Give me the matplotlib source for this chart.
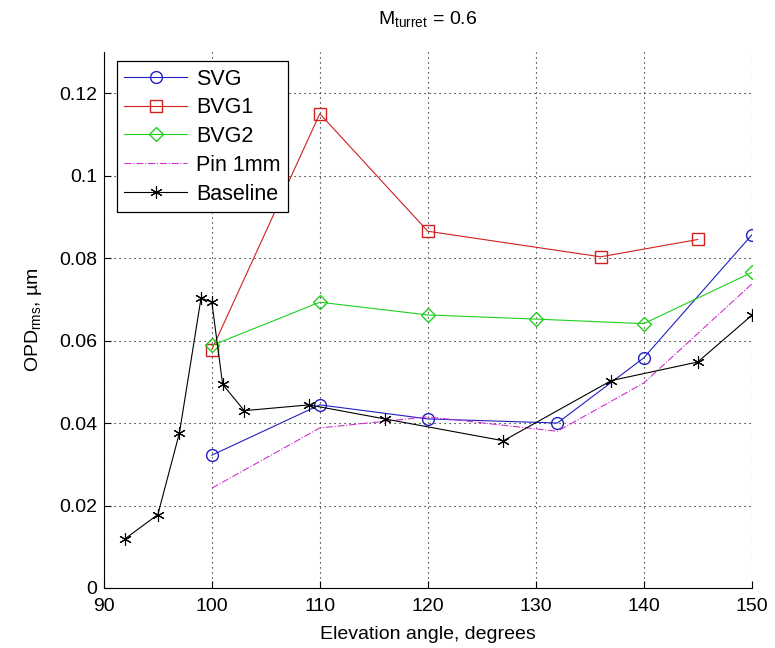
import matplotlib.pyplot as plt

plt.rcParams['font.family'] = ['Liberation Sans', 'DejaVu Sans']
plt.rcParams['mathtext.fontset'] = 'custom'
plt.rcParams['mathtext.rm'] = 'Liberation Sans'
plt.rcParams['mathtext.it'] = 'Liberation Sans'

# elevation angle [deg] vs OPD_rms [um]
svg_x = [100, 110, 120, 132, 140, 150]
svg_y = [0.0322, 0.0444, 0.0410, 0.0400, 0.0558, 0.0856]

bvg1_x = [100, 110, 120, 136, 145]
bvg1_y = [0.0578, 0.1150, 0.0865, 0.0803, 0.0845]

bvg2_x = [100, 110, 120, 130, 140, 150]
bvg2_y = [0.0588, 0.0693, 0.0662, 0.0652, 0.0641, 0.0765]

pin_x = [100, 110, 120, 132, 140, 150]
pin_y = [0.0242, 0.0388, 0.0415, 0.0380, 0.0497, 0.0737]

base_x = [92, 95, 97, 99, 100, 101, 103, 109, 116, 127, 137, 145, 150]
base_y = [0.0120, 0.0178, 0.0376, 0.0703, 0.0693, 0.0494, 0.0430,
          0.0444, 0.0410, 0.0357, 0.0503, 0.0548, 0.0661]

fig = plt.figure(figsize=(7.75, 6.48), dpi=100)
ax = fig.add_axes([0.134, 0.0926, 0.836, 0.8274])

ax.plot(svg_x, svg_y, color='#2020c0', lw=0.8, marker='o', ms=8.5,
        mfc='none', mec='#2020c0', label='SVG')
ax.plot(bvg1_x, bvg1_y, color='#d02020', lw=0.8, marker='s', ms=8,
        mfc='none', mec='#d02020', label='BVG1')
ax.plot(bvg2_x, bvg2_y, color='#20d020', lw=0.8, marker='D', ms=7,
        mfc='none', mec='#20d020', label='BVG2')
ax.plot(pin_x, pin_y, color='#d030d0', lw=0.8, ls='-.', label='Pin 1mm')
ax.plot(base_x, base_y, color='black', lw=0.8, marker=(6, 2, 0), ms=9,
        mew=0.8, label='Baseline')

ax.set_xlim(90, 150)
ax.set_ylim(0, 0.13)
ax.set_xticks([90, 100, 110, 120, 130, 140, 150])
ax.set_yticks([0, 0.02, 0.04, 0.06, 0.08, 0.1, 0.12])
ax.set_yticklabels(['0', '0.02', '0.04', '0.06', '0.08', '0.1', '0.12'])
ax.tick_params(direction='in', labelsize=14, length=5)
ax.tick_params(axis='x', pad=7)
ax.tick_params(axis='y', pad=5)
ax.spines['top'].set_visible(False)
ax.spines['right'].set_visible(False)
ax.grid(True, color='black', ls=(0, (1, 3.5)), lw=0.8)

ax.set_title(r'$\mathrm{M_{turret}}$ = 0.6', fontsize=14, pad=20)
ax.set_xlabel('Elevation angle, degrees', fontsize=14, labelpad=8)
ax.set_ylabel(r'OPD$_{\mathrm{rms}}$, µm', fontsize=14, labelpad=11)

leg = ax.legend(loc='upper left', bbox_to_anchor=(0.01, 0.995), fontsize=15.5,
                fancybox=False, framealpha=1, edgecolor='black',
                handlelength=2.9, borderaxespad=0.3, labelspacing=0.36,
                borderpad=0.35, handletextpad=0.45)
leg.get_frame().set_linewidth(0.9)

fig.savefig('out.png', dpi=100)
